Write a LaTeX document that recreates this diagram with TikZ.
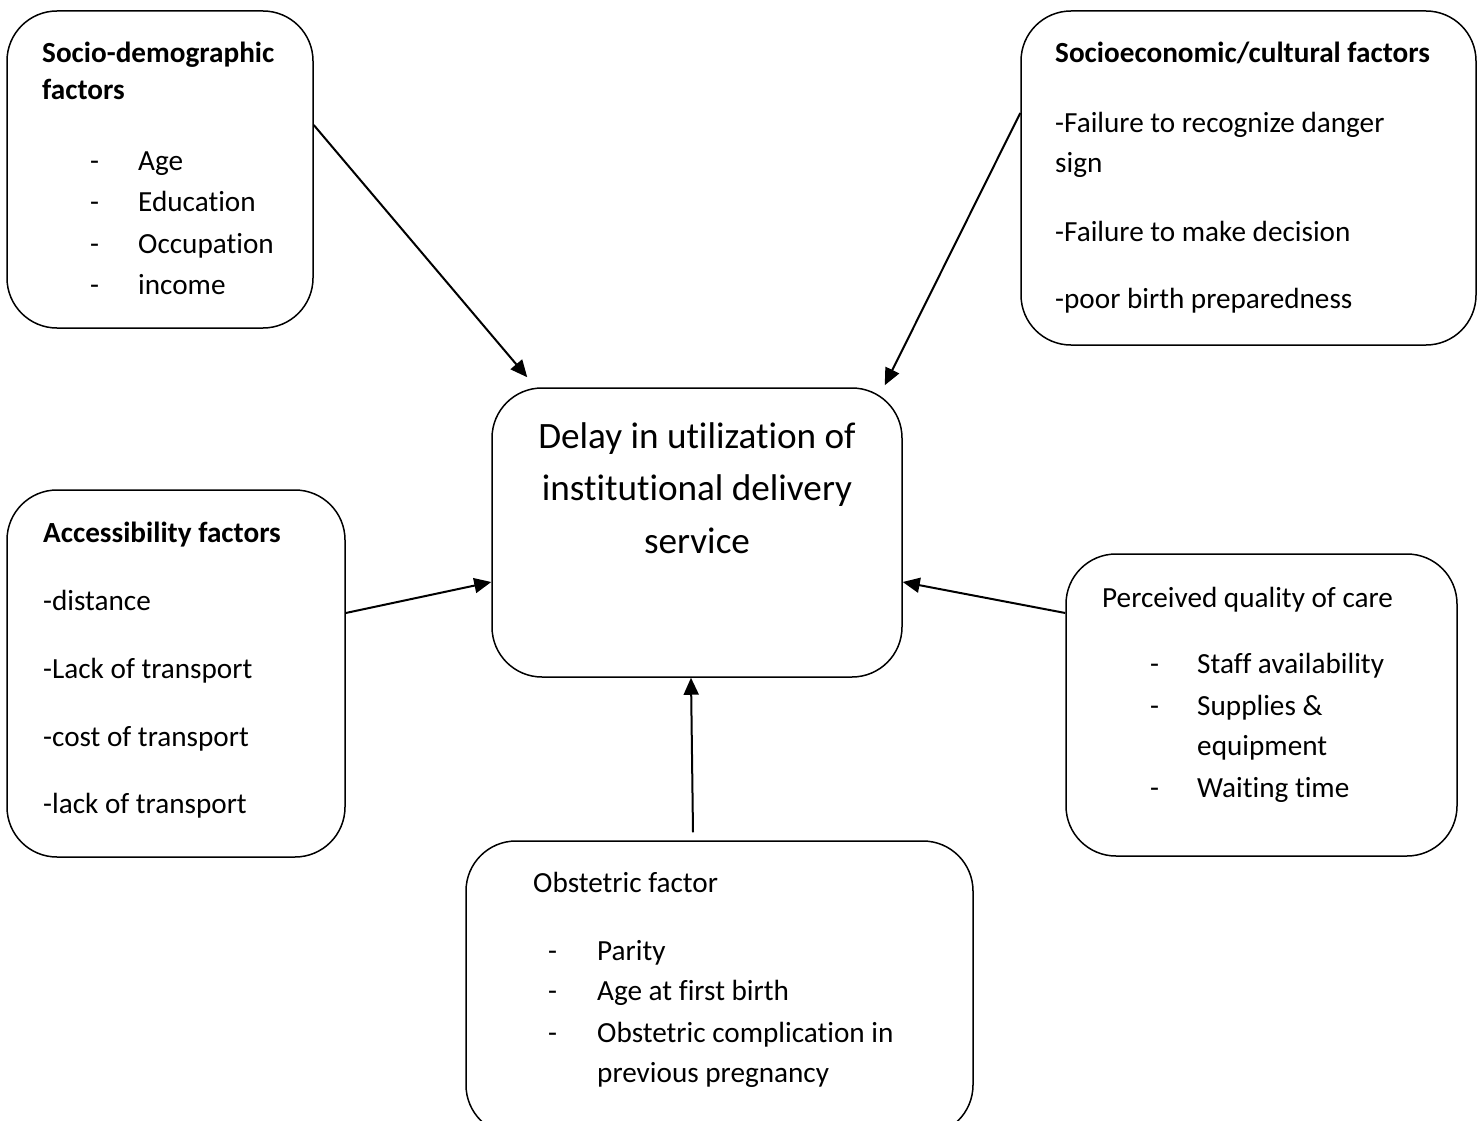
\documentclass[tikz,border=0pt]{standalone}
\usepackage{fontspec}
\setmainfont{Carlito}[Ligatures=NoCommon]
\usetikzlibrary{arrows.meta}

\tikzset{
  box/.style={draw,rounded corners=50pt,line width=1.5pt,inner sep=0pt},
  txt/.style={anchor=base west,inner sep=0pt,font=\fontsize{29.2}{41}\selectfont},
  ttl/.style={txt,font=\fontsize{29.2}{41}\selectfont\bfseries},
  arr/.style={line width=2pt,-{Triangle[length=17pt,width=15pt]}}
}

\begin{document}
\begin{tikzpicture}[x=1pt,y=-1pt]
  \useasboundingbox (0,0) rectangle (1483,1121);
  \clip (0,0) rectangle (1483,1121);

  % boxes
  \node[box,minimum width=306pt,minimum height=317pt] (socdem) at (160,169.5) {};
  \node[box,minimum width=455pt,minimum height=334pt] (soceco) at (1248.5,178) {};
  \node[box,minimum width=410pt,minimum height=289pt] (delay) at (697,532.5) {};
  \node[box,minimum width=338pt,minimum height=367pt] (access) at (176,673.5) {};
  \node[box,minimum width=391pt,minimum height=302pt] (quality) at (1261.5,705) {};
  \node[box,minimum width=507pt,minimum height=294pt] (obst) at (719.5,988) {};

  % centre
  \node[anchor=base,inner sep=0pt,font=\fontsize{37.2}{52}\selectfont] (delay1) at (697,448) {Delay in utilization of};
  \node[anchor=base,inner sep=0pt,font=\fontsize{37.2}{52}\selectfont] (delay2) at (697,500) {institutional delivery};
  \node[anchor=base,inner sep=0pt,font=\fontsize{37.2}{52}\selectfont] (delay3) at (697,553) {service};

  % socio-demographic
  \node[ttl] (socdemT1) at (42,63) {Socio-demographic};
  \node[ttl] (socdemT2) at (42,100) {factors};
  \foreach \y/\t [count=\i] in {170/Age,211.5/Education,253/Occupation,294/income}{
    \node[txt] (socdemD\i) at (90,\y) {-};
    \node[txt] (socdem\i) at (138,\y) {\t};
  }

  % socioeconomic/cultural
  \node[ttl] (socecoT) at (1055,63) {Socioeconomic/cultural factors};
  \node[txt] (soceco1) at (1055,132) {-Failure to recognize danger};
  \node[txt] (soceco2) at (1055,172) {sign};
  \node[txt] (soceco3) at (1055,241) {-Failure to make decision};
  \node[txt] (soceco4) at (1055,308) {-poor birth preparedness};

  % accessibility
  \node[ttl] (accessT) at (43,542) {Accessibility factors};
  \node[txt] (access1) at (43,610) {-distance};
  \node[txt] (access2) at (43,678) {-Lack of transport};
  \node[txt] (access3) at (43,746) {-cost of transport};
  \node[txt] (access4) at (43,813) {-lack of transport};

  % perceived quality
  \node[txt] (qualityT) at (1102,607) {Perceived quality of care};
  \node[txt] (qualityD1) at (1150,673) {-};
  \node[txt] (quality1) at (1197,673) {Staff availability};
  \node[txt] (qualityD2) at (1150,715) {-};
  \node[txt] (quality2) at (1197,715) {Supplies \&};
  \node[txt] (quality3) at (1197,755) {equipment};
  \node[txt] (qualityD4) at (1150,797) {-};
  \node[txt] (quality4) at (1197,797) {Waiting time};

  % obstetric
  \node[txt] (obstT) at (533,892) {Obstetric factor};
  \node[txt] (obstD1) at (548,960) {-};
  \node[txt] (obst1) at (597,960) {Parity};
  \node[txt] (obstD2) at (548,1000) {-};
  \node[txt] (obst2) at (597,1000) {Age at first birth};
  \node[txt] (obstD3) at (548,1042) {-};
  \node[txt] (obst3) at (597,1042) {Obstetric complication in};
  \node[txt] (obst4) at (597,1082) {previous pregnancy};

  % arrows
  \draw[arr] ([yshift=44.5pt]socdem.east) -- ([xshift=36pt,yshift=10pt]delay.north west);
  \draw[arr] ([yshift=65pt]soceco.west) -- ([xshift=-18pt,yshift=2pt]delay.north east);
  \draw[arr] ([yshift=60.5pt]access.east) -- ([yshift=-49.5pt]delay.west);
  \draw[arr] ([yshift=92pt]quality.west) -- ([yshift=-49.5pt]delay.east);
  \draw[arr] ([xshift=-26.5pt,yshift=8pt]obst.north) -- ([xshift=-6pt]delay.south);
\end{tikzpicture}
\end{document}
